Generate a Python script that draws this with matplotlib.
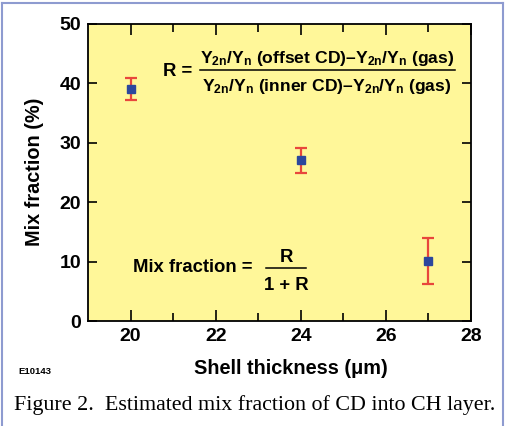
import matplotlib
matplotlib.use('Agg')
import matplotlib.pyplot as plt
from matplotlib.lines import Line2D

plt.rcParams['font.family'] = ['Liberation Sans', 'DejaVu Sans']
plt.rcParams['font.weight'] = 'bold'
plt.rcParams['mathtext.fontset'] = 'custom'
plt.rcParams['mathtext.rm'] = 'Liberation Sans:bold'
plt.rcParams['mathtext.it'] = 'Liberation Sans:bold'
plt.rcParams['mathtext.bf'] = 'Liberation Sans:bold'
plt.rcParams['mathtext.default'] = 'bf'

# data
thickness = [20, 24, 27]
mix_frac = [39.05, 27.1, 10.1]
mix_err = [1.85, 2.1, 3.85]
x_ticks = [20, 22, 24, 26, 28]
y_ticks = [0, 10, 20, 30, 40, 50]

W, H = 506, 426
fig = plt.figure(figsize=(W / 100, H / 100), dpi=100)
ax = fig.add_axes([88 / W, 1 - 321 / H, (471 - 88) / W, (321 - 24) / H])
ax.set_facecolor('#fff799')

ax.errorbar(thickness, mix_frac, yerr=mix_err, fmt='s', color='#2c479d',
            markersize=6, ecolor='#e8473c', elinewidth=1.6, capsize=4.3,
            capthick=1.6)

ax.set_xlim(19, 28)
ax.set_ylim(0, 50)
ax.set_xticks(x_ticks)
ax.set_xticks([21, 23, 25, 27], minor=True)
ax.set_yticks(y_ticks)
ax.tick_params(axis='x', which='major', direction='in', length=8, width=1.2,
               top=True, labelsize=14, pad=5)
ax.tick_params(axis='x', which='minor', direction='in', length=5.5, width=1.2,
               top=True)
ax.tick_params(axis='y', direction='in', length=6.5, width=1.2, right=True,
               labelsize=14, pad=5)
for lab in ax.get_xticklabels() + ax.get_yticklabels():
    lab.set_fontweight('bold')
for s in ax.spines.values():
    s.set_linewidth(1.3)

fig.text(291 / W, 1 - 369 / H, 'Shell thickness (\u03bcm)', ha='center',
         va='center', fontsize=14.3, fontweight='bold')
fig.text(35 / W, 1 - 172 / H, 'Mix fraction (%)', rotation=90, ha='center',
         va='center', fontsize=14.3, fontweight='bold')
fig.text(18 / W, 1 - 371 / H, 'E10143', ha='left', va='center', fontsize=6.8,
         fontweight='bold')
fig.text(14 / W, 1 - 405 / H,
         'Figure 2.  Estimated mix fraction of CD into CH layer.',
         ha='left', va='center', fontsize=15.8, fontweight='normal',
         family=['Liberation Serif', 'DejaVu Serif'])

# R = numerator / denominator, set as stacked texts with a rule
num = 'Y$_{2n}$/Y$_n$ (offset CD)\u2013Y$_{2n}$/Y$_n$ (gas)'
den = 'Y$_{2n}$/Y$_n$ (inner CD)\u2013Y$_{2n}$/Y$_n$ (gas)'
fig.text(163 / W, 1 - 71 / H, 'R =', ha='left', va='center', fontsize=13.3)
fig.text(327 / W, 1 - 58 / H, num, ha='center', va='center', fontsize=12.6)
fig.text(327 / W, 1 - 86 / H, den, ha='center', va='center', fontsize=12.6)
fig.add_artist(Line2D([200 / W, 455 / W], [1 - 70 / H, 1 - 70 / H],
                      color='black', lw=1.1))

fig.text(133 / W, 1 - 268 / H, 'Mix fraction =', ha='left', va='center',
         fontsize=13.3)
fig.text(286 / W, 1 - 257 / H, 'R', ha='center', va='center', fontsize=13.3)
fig.text(286 / W, 1 - 285 / H, '1 + R', ha='center', va='center', fontsize=13.3)
fig.add_artist(Line2D([266 / W, 306 / W], [1 - 268 / H, 1 - 268 / H],
                      color='black', lw=1.1))

# light blue frame around the figure, open at the bottom
frame = '#8e9bd0'
fig.add_artist(Line2D([2.5 / W, 2.5 / W], [0, 1 - 2.5 / H], color=frame, lw=1.5))
fig.add_artist(Line2D([2.5 / W, 503 / W], [1 - 2.5 / H, 1 - 2.5 / H], color=frame, lw=1.5))
fig.add_artist(Line2D([503 / W, 503 / W], [0, 1 - 2.5 / H], color=frame, lw=1.5))

fig.savefig('out.png', dpi=100)
